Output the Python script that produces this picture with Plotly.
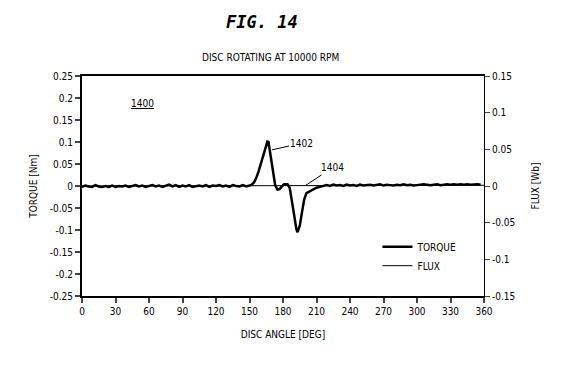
import plotly.graph_objects as go

# ---- data ----
angle_deg = [0, 3, 6, 9, 12, 15, 18, 21, 24, 27, 30, 33, 36, 39, 42, 45, 48, 51, 54, 57,
             60, 63, 66, 69, 72, 75, 78, 81, 84, 87, 90, 93, 96, 99, 102, 105, 108, 111,
             114, 117, 120, 123, 126, 129, 132, 135, 138, 141, 144, 147, 150,
             152, 154, 156, 158, 160, 162, 164, 166, 167, 169, 171, 173, 175, 177, 179,
             181, 184, 186, 188, 190, 192, 193, 195, 197, 199, 201, 204, 207, 210, 213,
             216, 219, 222, 225, 228, 231, 234, 237, 240, 243, 246, 249, 252, 255, 258,
             261, 264, 267, 270, 273, 276, 279, 282, 285, 288, 291, 294, 297, 300, 303,
             306, 309, 312, 315, 318, 321, 324, 327, 330, 333, 336, 339, 342, 345, 348,
             351, 354, 357, 360]
torque_nm = [-0.002, 0.001, -0.001, -0.002, 0.002, -0.001, -0.002, 0.000, -0.002, 0.001,
             -0.002, 0.000, -0.001, 0.001, -0.002, 0.000, 0.002, -0.001, 0.001, -0.002,
             0.000, 0.002, -0.001, 0.001, -0.002, 0.001, 0.003, -0.001, 0.002, -0.002,
             0.001, -0.001, 0.002, -0.002, 0.000, 0.001, -0.001, 0.002, -0.002, 0.001,
             0.000, 0.002, -0.001, 0.001, -0.002, 0.002, 0.000, -0.001, 0.002, -0.001,
             0.001,
             0.003, 0.008, 0.018, 0.032, 0.050, 0.068, 0.088, 0.101, 0.100, 0.070, 0.035,
             0.002, -0.008, -0.007, -0.001, 0.004, 0.004, -0.004, -0.035, -0.070, -0.098,
             -0.105, -0.090, -0.060, -0.030, -0.016, -0.012, -0.008, -0.004, -0.002,
             0.000, 0.002, 0.000, 0.003, 0.001, 0.002, 0.000, 0.003, 0.001, 0.002, 0.000,
             0.003, 0.001, 0.002, 0.003, 0.001, 0.002, 0.004, 0.001, 0.003, 0.002, 0.001,
             0.003, 0.002, 0.004, 0.002, 0.003, 0.001, 0.002, 0.003, 0.004, 0.003, 0.002,
             0.003, 0.004, 0.002, 0.003, 0.004, 0.003, 0.004, 0.003, 0.004, 0.003, 0.004,
             0.003, 0.004, 0.004, 0.003]
flux_angle_deg = [0, 30, 60, 90, 120, 150, 180, 210, 240, 270, 300, 330, 360]
flux_wb = [0.0, 0.0, 0.0, 0.0, 0.0, 0.0, 0.0, 0.0, 0.0005, 0.0005, 0.001, 0.001, 0.001]

x_ticks = list(range(0, 361, 30))
y_ticks = [0.25, 0.2, 0.15, 0.1, 0.05, 0, -0.05, -0.1, -0.15, -0.2, -0.25]
y_ticktext = ["0.25", "0.2", "0.15", "0.1", "0.05", "0", "-0.05", "-0.1", "-0.15", "-0.2", "-0.25"]
y2_ticks = [0.15, 0.1, 0.05, 0, -0.05, -0.1, -0.15]
y2_ticktext = ["0.15", "0.1", "0.05", "0", "-0.05", "-0.1", "-0.15"]

FONT = "DejaVu Sans Condensed"
BLACK = "#000000"

fig = go.Figure()
fig.add_trace(go.Scatter(x=flux_angle_deg, y=flux_wb, mode="lines", name="FLUX",
                         line=dict(color=BLACK, width=1), yaxis="y2"))
fig.add_trace(go.Scatter(x=angle_deg, y=torque_nm, mode="lines", name="TORQUE",
                         line=dict(color=BLACK, width=2.5)))

fig.update_layout(
    width=561, height=367,
    margin=dict(l=82, r=77, t=76, b=71),
    paper_bgcolor="white", plot_bgcolor="white",
    font=dict(family=FONT, size=10, color=BLACK),
    showlegend=True,
    legend=dict(x=0.735, y=0.29, xanchor="left", yanchor="top",
                bgcolor="rgba(0,0,0,0)", font=dict(size=10, family=FONT),
                traceorder="reversed", tracegroupgap=0, itemwidth=30),
    xaxis=dict(range=[0, 360], tickvals=x_ticks, ticks="outside", ticklen=5,
               tickwidth=2, showgrid=False, zeroline=False, showline=True,
               linewidth=2, linecolor=BLACK, mirror=True,
               title=dict(text="DISC ANGLE [DEG]", standoff=15, font=dict(size=10))),
    yaxis=dict(range=[-0.25, 0.25], tickvals=y_ticks, ticktext=y_ticktext,
               ticks="outside", ticklen=5, tickwidth=2, showgrid=False,
               zeroline=False, showline=True, linewidth=2, linecolor=BLACK,
               title=dict(text="TORQUE [Nm]", standoff=10, font=dict(size=10))),
    yaxis2=dict(range=[-0.15, 0.15], tickvals=y2_ticks, ticktext=y2_ticktext,
                overlaying="y", side="right", ticks="outside", ticklen=5,
                tickwidth=1, showgrid=False, zeroline=False, showline=True,
                linewidth=1, linecolor=BLACK,
                title=dict(text="FLUX [Wb]", standoff=17, font=dict(size=10))),
)

fig.add_annotation(text="<b><i>FIG. 14</i></b>", xref="paper", yref="paper",
                   x=0.447, y=1.245, xanchor="center", yanchor="middle",
                   showarrow=False, font=dict(size=17, family="DejaVu Sans Mono"))
fig.add_annotation(text="DISC ROTATING AT 10000 RPM", xref="paper", yref="paper",
                   x=0.468, y=1.082, xanchor="center", yanchor="middle",
                   showarrow=False, font=dict(size=10))
fig.add_annotation(text="<u>1400</u>", xref="x", yref="y", x=54.6, y=0.188,
                   showarrow=False, font=dict(size=10))
fig.add_annotation(text="1402", xref="x", yref="y", x=170, y=0.082,
                   ax=197, ay=0.0977, axref="x", ayref="y",
                   showarrow=True, arrowhead=0, arrowwidth=1, arrowcolor=BLACK,
                   font=dict(size=10))
fig.add_annotation(text="1404", xref="x", yref="y", x=200.6, y=0.002,
                   ax=224, ay=0.041, axref="x", ayref="y",
                   showarrow=True, arrowhead=0, arrowwidth=1, arrowcolor=BLACK,
                   font=dict(size=10))

fig.write_html("out.html")
